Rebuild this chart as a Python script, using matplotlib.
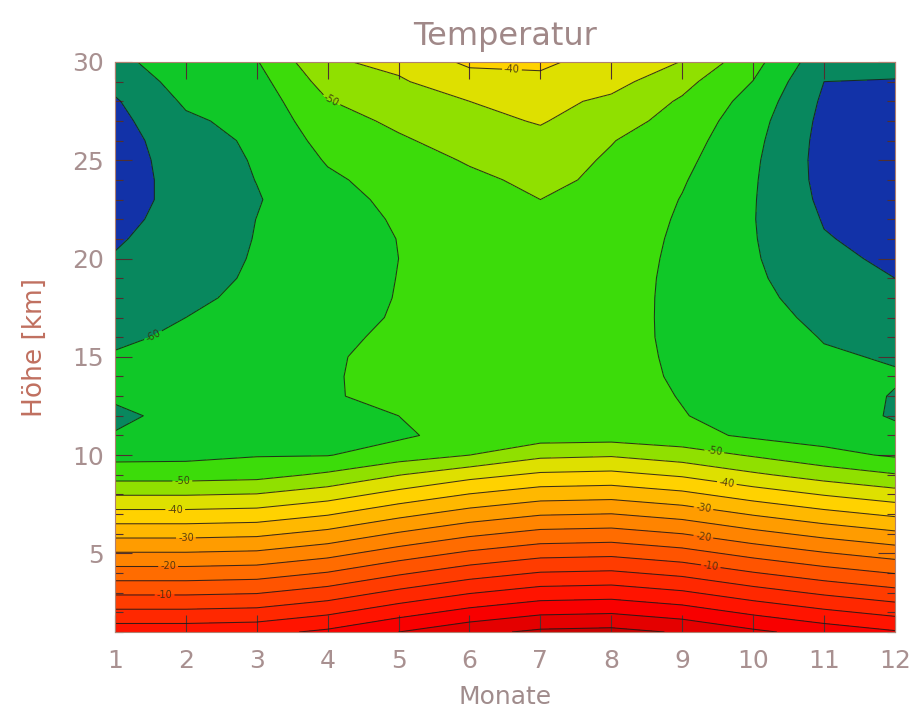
import matplotlib.pyplot as plt
from matplotlib.ticker import MultipleLocator
import numpy as np


# axes of the grid: months (x) and height in km (y)
months = [1, 2, 3, 4, 5, 6, 7, 8, 9, 10, 11, 12]
heights = list(range(1, 31))

# temperature in deg C, one row per km, one value per month
temp_troposphere = [
    [3.0, 3.0, 3.5, 6.0, 10.0, 13.5, 16.0, 16.5, 14.5, 11.0, 8.0, 5.5],
    [-3.9, -3.9, -3.4, -0.9, 3.1, 6.6, 9.1, 9.6, 7.6, 4.1, 1.1, -1.4],
    [-10.8, -10.8, -10.3, -7.8, -3.8, -0.3, 2.2, 2.7, 0.7, -2.8, -5.8, -8.3],
    [-17.7, -17.7, -17.2, -14.7, -10.7, -7.2, -4.7, -4.2, -6.2, -9.7, -12.7, -15.2],
    [-24.6, -24.6, -24.1, -21.6, -17.6, -14.1, -11.6, -11.1, -13.1, -16.6, -19.6, -22.1],
    [-31.5, -31.5, -31.0, -28.5, -24.5, -21.0, -18.5, -18.0, -20.0, -23.5, -26.5, -29.0],
    [-38.4, -38.4, -37.9, -35.4, -31.4, -27.9, -25.4, -24.9, -26.9, -30.4, -33.4, -35.9],
    [-45.3, -45.3, -44.8, -42.3, -38.3, -34.8, -32.3, -31.8, -33.8, -37.3, -40.3, -42.8],
    [-52.2, -52.2, -51.7, -49.2, -45.2, -41.7, -39.2, -38.7, -40.7, -44.2, -47.2, -49.7],
    [-56.5, -56.3, -55.3, -55.2, -52.5, -50.0, -46.1, -45.5, -47.5, -50.5, -53.5, -55.6],
]

temp_lower_strat = [
    [-59.7, -58.0, -57.0, -56.2, -55.8, -53.1, -52.5, -52.3, -53.5, -55.8, -57.0, -58.8],
    [-61.0, -58.5, -57.3, -56.0, -55.0, -53.5, -53.0, -53.0, -54.8, -56.8, -58.0, -60.4],
    [-59.3, -58.0, -57.0, -55.4, -53.8, -53.3, -53.0, -53.2, -55.2, -57.2, -58.5, -60.2],
    [-58.5, -57.5, -56.8, -55.3, -54.0, -53.2, -53.0, -53.3, -55.6, -57.4, -59.0, -59.7],
    [-59.5, -58.0, -57.0, -55.4, -54.0, -53.2, -53.0, -53.4, -55.8, -57.6, -59.6, -60.3],
    [-61.0, -59.0, -57.6, -55.8, -54.3, -53.3, -52.9, -53.4, -56.0, -58.0, -60.2, -62.0],
    [-62.0, -60.0, -58.2, -56.6, -54.6, -53.4, -52.7, -53.3, -56.1, -58.4, -61.0, -63.2],
    [-63.0, -61.0, -58.8, -57.0, -54.8, -53.4, -52.4, -53.1, -56.2, -58.8, -62.0, -64.2],
    [-64.0, -61.8, -59.3, -57.3, -54.9, -53.3, -52.0, -52.9, -56.2, -59.2, -63.0, -65.0],
    [-64.7, -62.3, -59.6, -57.5, -55.0, -53.1, -51.6, -52.6, -56.1, -59.5, -64.0, -65.8],
]

temp_upper_strat = [
    [-65.5, -62.8, -59.8, -57.6, -54.9, -52.7, -51.1, -52.3, -55.9, -59.7, -64.7, -66.5],
    [-66.3, -63.2, -59.95, -57.2, -54.5, -52.2, -50.6, -51.9, -55.6, -59.8, -65.3, -67.2],
    [-67.0, -63.4, -60.3, -56.8, -53.8, -51.6, -50.0, -51.4, -55.2, -59.7, -66.0, -67.8],
    [-67.5, -63.0, -59.9, -55.8, -53.1, -50.9, -49.0, -50.9, -54.6, -59.5, -66.5, -68.2],
    [-67.5, -62.6, -59.6, -54.6, -52.0, -49.6, -47.8, -50.6, -53.8, -59.2, -66.7, -68.4],
    [-67.2, -62.0, -59.2, -53.3, -50.6, -48.1, -46.4, -49.8, -52.9, -58.7, -66.6, -68.3],
    [-66.5, -60.8, -58.5, -51.9, -49.1, -46.5, -44.6, -48.0, -51.8, -58.0, -66.3, -67.8],
    [-65.5, -59.3, -57.8, -50.2, -47.4, -45.0, -43.5, -46.0, -50.6, -56.8, -65.8, -66.8],
    [-63.5, -58.0, -56.75, -48.0, -45.5, -42.4, -41.5, -43.3, -48.5, -55.1, -65.0, -65.4],
    [-61.5, -56.8, -55.3, -45.6, -43.9, -39.0, -38.8, -42.8, -45.1, -53.3, -63.3, -62.5],
]

# contour levels (5 deg steps) and the ones that carry a label
levels = [-70, -65, -60, -55, -50, -45, -40, -35, -30, -25, -20, -15, -10, -5, 0, 5, 10, 15, 20]
label_levels = [-60, -50, -40, -30, -20, -10]

band_colors = ['#1232a8', '#08885e', '#10c828', '#3cdc0a', '#90e000', '#dee000',
               '#ffd200', '#ffb800', '#ff9c00', '#ff8400', '#ff6c00', '#ff5400',
               '#ff3c00', '#ff2800', '#ff1400', '#f80000', '#e40000', '#c80000']

# where the contour labels sit (month, km)
label_spots = [(1.95, 8.65), (1.85, 7.27), (2.0, 5.9), (1.75, 4.5), (1.7, 2.95),
               (9.45, 10.1), (9.63, 8.6), (9.3, 7.3), (9.3, 5.9), (9.4, 4.3),
               (6.6, 29.7), (4.05, 28.05), (1.55, 16.0)]


def plotTemperature(filename="out"):
    temp = np.array(temp_troposphere + temp_lower_strat + temp_upper_strat)
    plain_levels = [lv for lv in levels if lv not in label_levels]

    plt.rcParams['font.family'] = 'DejaVu Sans'
    fig = plt.figure(figsize=(9.16, 7.2), dpi=100)
    ax = fig.add_axes([0.1255, 0.1222, 0.8515, 0.7917])

    ax.contourf(months, heights, temp, levels=levels, colors=band_colors)
    ax.contour(months, heights, temp, levels=plain_levels, colors='#1a1a1a',
               linewidths=0.75, linestyles='solid', alpha=0.85)
    cs = ax.contour(months, heights, temp, levels=label_levels, colors='#1a1a1a',
                    linewidths=0.75, linestyles='solid', alpha=0.85)
    ax.clabel(cs, manual=label_spots, fmt='%d', fontsize=7, inline=True,
              inline_spacing=2, colors='#3a2a10')

    ax.set_xlim(1, 12)
    ax.set_ylim(1, 30)
    ax.set_xticks(months)
    ax.yaxis.set_major_locator(MultipleLocator(5))
    ax.yaxis.set_minor_locator(MultipleLocator(1))
    ax.set_yticks([5, 10, 15, 20, 25, 30])

    label_color = '#a89090'
    ax.tick_params(axis='both', which='major', direction='in', top=True, right=True,
                   length=12, width=0.8, color='#503030', labelsize=18,
                   labelcolor=label_color)
    ax.tick_params(axis='both', which='minor', direction='in', right=True,
                   length=6, width=0.8, color='#503030')
    ax.tick_params(axis='x', pad=12)
    ax.tick_params(axis='y', pad=8)
    for s in ax.spines.values():
        s.set_color('#b08070')
        s.set_linewidth(0.8)

    ax.set_title('Temperatur', fontsize=23, color='#a08888', pad=12)
    ax.set_xlabel('Monate', fontsize=18, color='#a08c8c', labelpad=9)
    ax.set_ylabel('Höhe [km]', fontsize=19, color='#c07060', labelpad=17)

    plt.savefig(filename + ".png", dpi=100)
    plt.close()


def main():
    plotTemperature()


if __name__ == '__main__':
    main()
